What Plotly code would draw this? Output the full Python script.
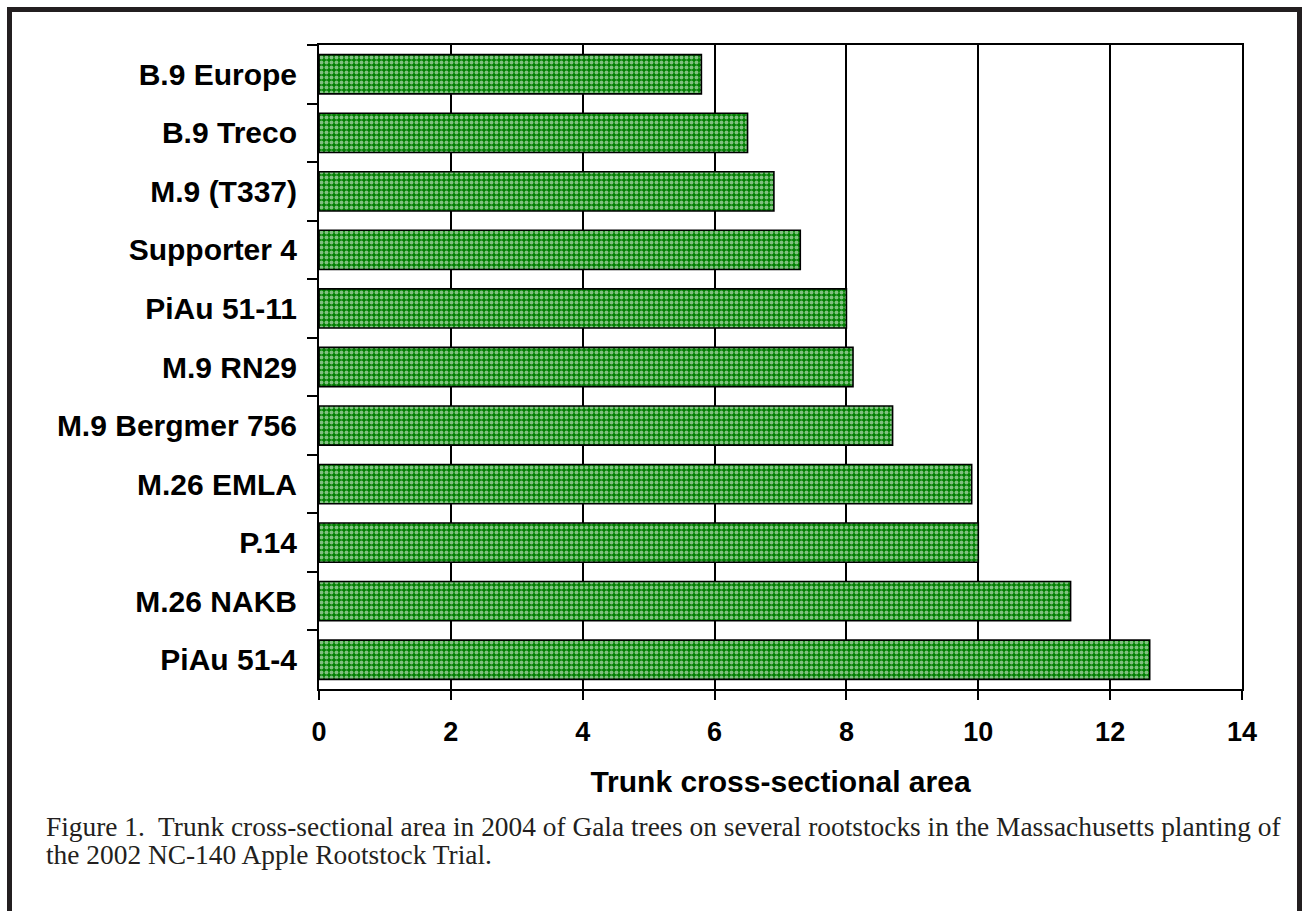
import plotly.graph_objects as go

# Rootstocks listed top to bottom, with trunk cross-sectional area (cm^2)
rootstocks = [
    "B.9 Europe", "B.9 Treco", "M.9 (T337)", "Supporter 4", "PiAu 51-11",
    "M.9 RN29", "M.9 Bergmer 756", "M.26 EMLA", "P.14", "M.26 NAKB", "PiAu 51-4",
]
tcsa = [5.8, 6.5, 6.9, 7.3, 8.0, 8.1, 8.7, 9.9, 10.0, 11.4, 12.6]
x_ticks = [0, 2, 4, 6, 8, 10, 12, 14]

caption_lines = [
    "Figure 1.  Trunk cross-sectional area in 2004 of Gala trees on several rootstocks "
    "in the Massachusetts planting of",
    "the 2002 NC-140 Apple Rootstock Trial.",
]

W, H = 1302, 911
ML, MR, MT, MB = 319, 60, 45, 222
PW, PH = W - ML - MR, H - MT - MB


def px_x(p):
    return (p - ML) / PW


def px_y(p):
    return 1 - (p - MT) / PH


fig = go.Figure(go.Bar(
    x=tcsa, y=rootstocks, orientation="h", width=0.67,
    marker=dict(
        color="#008000",
        line=dict(color="black", width=1.6),
        pattern=dict(shape=".", fgcolor="white", bgcolor="#008000", size=5, solidity=0.5),
    ),
    hoverinfo="x+y",
))

frame = "#231f20"
shapes = [
    dict(type="line", xref="paper", yref="paper", x0=px_x(9.5), x1=px_x(9.5),
         y0=px_y(7), y1=px_y(H + 5), line=dict(color=frame, width=5)),
    dict(type="line", xref="paper", yref="paper", x0=px_x(7), x1=px_x(1302),
         y0=px_y(9.5), y1=px_y(9.5), line=dict(color=frame, width=5)),
    dict(type="line", xref="paper", yref="paper", x0=px_x(1299.5), x1=px_x(1299.5),
         y0=px_y(7), y1=px_y(H + 5), line=dict(color=frame, width=5)),
]

caption_font = dict(family="Liberation Serif, Times New Roman, serif", size=27.4, color="#231f20")
annotations = [
    dict(text=line, xref="paper", yref="paper", x=px_x(44), y=px_y(top),
         xanchor="left", yanchor="top", showarrow=False, align="left", font=caption_font)
    for line, top in zip(caption_lines, [810, 838])
]

fig.update_layout(
    width=W, height=H,
    margin=dict(l=ML, r=MR, t=MT, b=MB),
    paper_bgcolor="white", plot_bgcolor="white",
    showlegend=False,
    shapes=shapes,
    annotations=annotations,
    font=dict(family="Liberation Sans, Arial, sans-serif", color="black"),
    xaxis=dict(
        range=[0, 14], tickvals=x_ticks, ticktext=[str(v) for v in x_ticks],
        showgrid=True, gridcolor="black", gridwidth=1.5,
        showline=True, linecolor="black", linewidth=2, mirror=True,
        ticks="outside", ticklen=9, tickwidth=2, tickcolor="black",
        tickfont=dict(size=27, weight="bold"),
        ticklabelstandoff=9,
        zeroline=False,
        title=dict(text="Trunk cross-sectional area",
                   font=dict(size=30, weight="bold"), standoff=25),
    ),
    yaxis=dict(
        categoryorder="array", categoryarray=rootstocks, autorange="reversed",
        showline=True, linecolor="black", linewidth=2, mirror=True,
        ticks="outside", ticklen=10, tickwidth=2, tickcolor="black",
        tickson="boundaries",
        tickfont=dict(size=30, weight="bold"),
        ticklabelstandoff=14,
        showgrid=False,
    ),
)

fig.write_html("out.html")
